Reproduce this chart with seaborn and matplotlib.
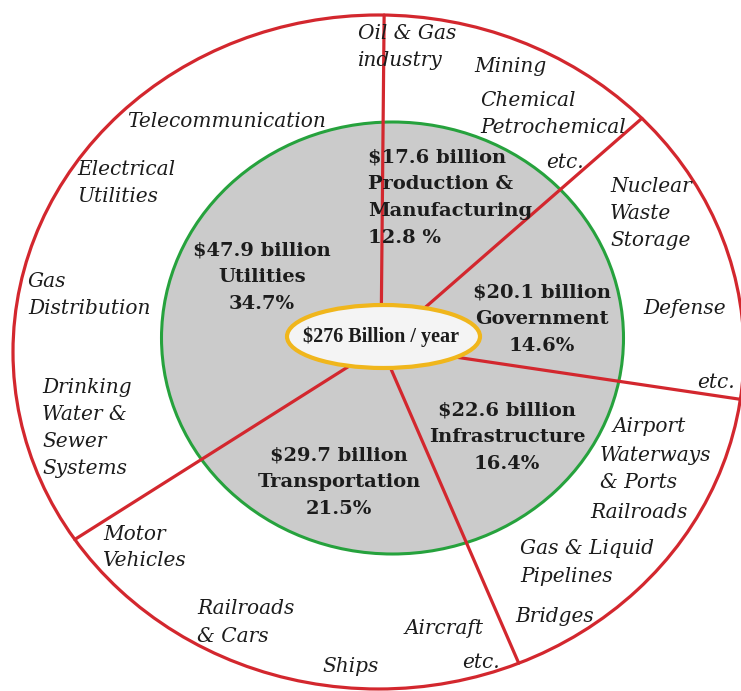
import numpy as np
import pandas as pd
import matplotlib
matplotlib.use("Agg")
import matplotlib.pyplot as plt
import seaborn as sns
from matplotlib.patches import Ellipse

# ---- data -------------------------------------------------------------
sectors = ["Utilities", "Transportation", "Infrastructure", "Government",
           "Production &\nManufacturing"]
spend_billion = [47.9, 29.7, 22.6, 20.1, 17.6]
share_pct = [34.7, 21.5, 16.4, 14.6, 12.8]
pct_sep = ["", "", "", "", " "]
total_label = "$276 Billion / year"

utilities_items = ["Telecommunication", "Electrical\nUtilities", "Gas\nDistribution",
                   "Drinking\nWater &\nSewer\nSystems"]
transportation_items = ["Motor\nVehicles", "Railroads\n& Cars", "Ships", "Aircraft", "etc."]
infrastructure_items = ["Airport", "Waterways\n& Ports", "Railroads",
                        "Gas & Liquid\nPipelines", "Bridges"]
government_items = ["Nuclear\nWaste\nStorage", "Defense", "etc."]
production_items = ["Oil & Gas\nindustry", "Mining", "Chemical\nPetrochemical", "etc."]

# ---- style ------------------------------------------------------------
sns.set_theme(style="white")
plt.rcParams["font.family"] = ["DejaVu Serif"]

RED = "#D3272E"
GREEN = "#26A23D"
GRAY = "#CBCBCB"
GOLD = "#F0B61C"
INK = "#1C1C1C"

W, H = 741, 691
# outer ring (pixel centre / radii); chart units put the outer ring on the unit circle
CX, CY, RX, RY = 378.5, 352.0, 365.5, 337.0


def to_chart(px, py):
    return (px - CX) / RX, (CY - py) / RY


fig = plt.figure(figsize=(W / 100, H / 100), dpi=100)
ax = fig.add_axes([0, 0, 1, 1])
x0, y0 = to_chart(0, H)
x1, y1 = to_chart(W, 0)
ax.set_xlim(x0, x1)
ax.set_ylim(y0, y1)
ax.axis("off")

# outer ring
ax.add_patch(Ellipse((0, 0), 2, 2, facecolor="white", edgecolor=RED, lw=2.3, zorder=1))

# inner disk
ic = to_chart(392.5, 338)
ax.add_patch(Ellipse(ic, 2 * 231 / RX, 2 * 216 / RY, facecolor=GRAY,
                     edgecolor=GREEN, lw=2.2, zorder=2))

# spokes: sector boundaries from cumulative shares, counter-clockwise from the top
start_deg = 89.5
bounds = start_deg + 3.6 * np.concatenate([[0], np.cumsum(share_pct[:-1])])
ox, oy = to_chart(381, 346)
rows = []
for k, a in enumerate(np.radians(bounds)):
    d = np.array([np.cos(a), np.sin(a)])
    o = np.array([ox, oy])
    od = o @ d
    t = -od + np.sqrt(od ** 2 - (o @ o - 1))
    e = o + t * d
    rows.append({"spoke": k, "x": ox, "y": oy})
    rows.append({"spoke": k, "x": e[0], "y": e[1]})
spokes = pd.DataFrame(rows)
sns.lineplot(data=spokes, x="x", y="y", units="spoke", estimator=None, sort=False,
             color=RED, lw=2.3, ax=ax, legend=False, zorder=3)
ax.set_xlim(x0, x1)
ax.set_ylim(y0, y1)
ax.axis("off")

# centre total
ec = to_chart(383.5, 336.5)
ax.add_patch(Ellipse(ec, 193 / RX, 63 / RY, facecolor="#F4F4F4", edgecolor=GOLD,
                     lw=3.0, zorder=4))
ax.text(*to_chart(381, 337), total_label, ha="center", va="center", fontsize=14.5,
        fontweight="bold", family=["Liberation Serif", "DejaVu Serif"], color=INK, zorder=5)


def put_lines(text, px, py, pitch, ha, **kw):
    for i, line in enumerate(text.split("\n")):
        ax.text(*to_chart(px, py + i * pitch), line, ha=ha, va="center",
                color=INK, zorder=6, **kw)


# sector labels inside the disk
sector_pos = [(262, 250, "center"), (339, 455, "center"), (507, 410, "center"),
              (542, 292, "center"), (368, 157, "left")]
for name, amt, pct, sep, (px, py, ha) in zip(sectors, spend_billion, share_pct,
                                             pct_sep, sector_pos):
    txt = f"${amt} billion\n{name}\n{pct}{sep}%"
    put_lines(txt, px, py, 27, ha, fontsize=14, fontweight="bold")

# sub-industry labels around the ring
item_groups = [
    (utilities_items, [(127, 121), (77, 169), (28, 281), (42, 387)]),
    (transportation_items, [(103, 534), (197, 609), (322, 667), (405, 628), (462, 662)]),
    (infrastructure_items, [(613, 426), (600, 455), (590, 513), (520, 549), (515, 616)]),
    (government_items, [(610, 186), (643, 308), (697, 382)]),
    (production_items, [(358, 33), (474, 66), (480, 100), (546, 162)]),
]
for items, positions in item_groups:
    for label, (px, py) in zip(items, positions):
        put_lines(label, px, py, 27, "left", fontsize=14.5, style="italic")

fig.savefig("out.png", dpi=100)
